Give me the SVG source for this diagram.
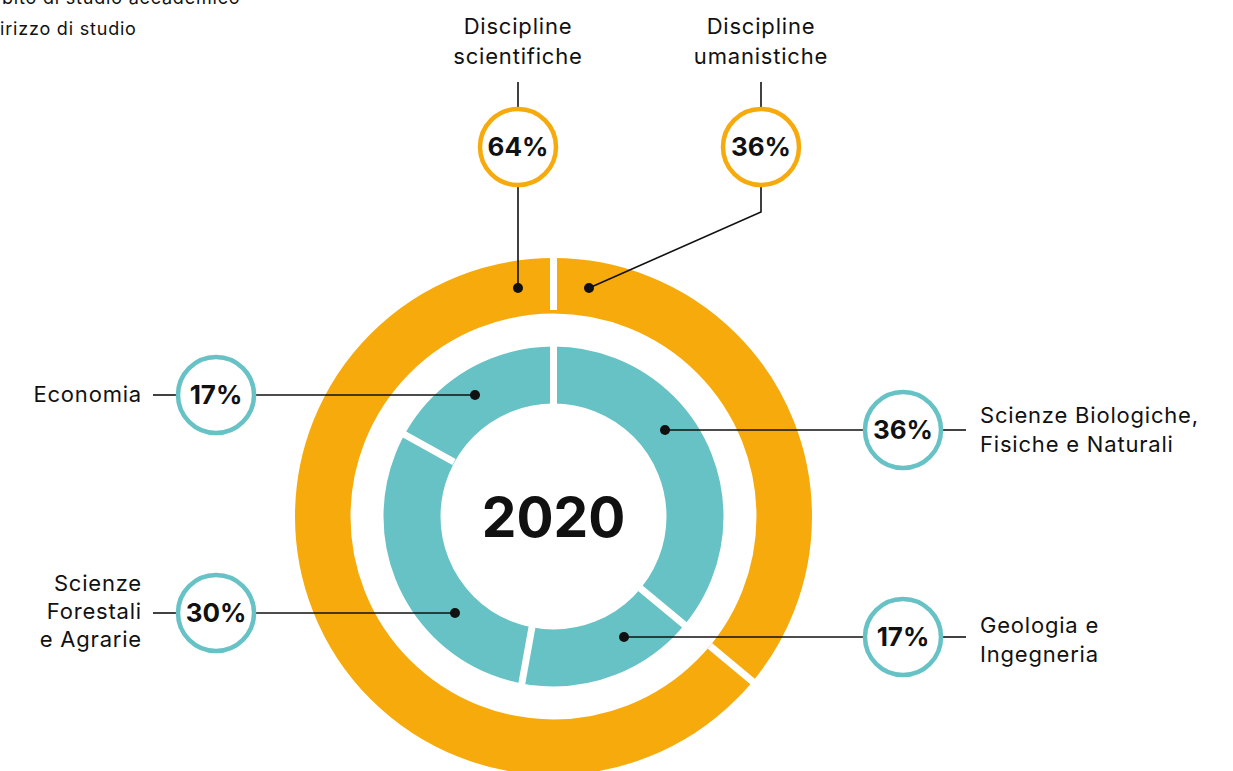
<svg xmlns="http://www.w3.org/2000/svg" width="1233" height="771" viewBox="0 0 1233 771">
<style>
.lbl{font-family:Inter,"Noto Sans","Liberation Sans",sans-serif;font-size:22px;letter-spacing:0.8px;fill:#111}
.pct{font-family:Inter,"Noto Sans","Liberation Sans",sans-serif;font-size:26px;font-weight:700;fill:#111;text-anchor:middle}
.hdr{font-family:Inter,"Noto Sans","Liberation Sans",sans-serif;font-size:18px;letter-spacing:0.8px;fill:#111}
.co{stroke:#111;stroke-width:1.6;fill:none}
.dot{fill:#111}
.oc{fill:#fff;stroke:#F7AA0B;stroke-width:4.5}
.tc{fill:#fff;stroke:#67C2C6;stroke-width:4.5}
.sep{stroke:#fff;stroke-width:7}
</style>
<rect width="1233" height="771" fill="#fff"/>
<g id="header">
<text class="hdr" x="2" y="4">bito di studio accademico</text>
<text class="hdr" x="0" y="35">irizzo di studio</text>
</g>
<g id="rings">
<circle cx="553.5" cy="516.5" r="230.75" fill="none" stroke="#F7AA0B" stroke-width="55.5"/>
<circle cx="553.5" cy="516.5" r="141.5" fill="none" stroke="#67C2C6" stroke-width="57"/>
<line class="sep" x1="553.5" y1="310" x2="553.5" y2="255"/>
<line class="sep" x1="710" y1="646" x2="755" y2="683.5"/>
<line class="sep" x1="553.5" y1="405" x2="553.5" y2="343"/>
<line class="sep" x1="640" y1="588" x2="687" y2="627"/>
<line class="sep" x1="532" y1="627" x2="521" y2="688"/>
<line class="sep" x1="454" y1="462" x2="400" y2="432"/>
<text x="553.5" y="537" text-anchor="middle" style="font-family:Inter,'Noto Sans','Liberation Sans',sans-serif;font-size:55px;font-weight:700;fill:#111">2020</text>
</g>
<g id="connectors">
<line class="co" x1="518" y1="82" x2="518" y2="110"/>
<line class="co" x1="518" y1="185" x2="518" y2="288"/>
<circle class="dot" cx="518" cy="288" r="5"/>
<line class="co" x1="761" y1="82" x2="761" y2="110"/>
<polyline class="co" points="761,185 761,212 589,288"/>
<circle class="dot" cx="589" cy="288" r="5"/>
<line class="co" x1="153" y1="395" x2="179" y2="395"/>
<line class="co" x1="253" y1="395" x2="475" y2="395"/>
<circle class="dot" cx="475" cy="395" r="5"/>
<line class="co" x1="153" y1="613" x2="179" y2="613"/>
<line class="co" x1="253" y1="613" x2="455" y2="613"/>
<circle class="dot" cx="455" cy="613" r="5"/>
<line class="co" x1="665" y1="430" x2="866" y2="430"/>
<line class="co" x1="940" y1="430" x2="966" y2="430"/>
<circle class="dot" cx="665" cy="430" r="5"/>
<line class="co" x1="624" y1="637" x2="866" y2="637"/>
<line class="co" x1="940" y1="637" x2="966" y2="637"/>
<circle class="dot" cx="624" cy="637" r="5"/>
</g>
<g id="node-scientifiche">
<circle class="oc" cx="518" cy="147" r="38"/>
<text class="pct" x="518" y="156">64%</text>
<text class="lbl" x="518" y="34" text-anchor="middle">Discipline</text>
<text class="lbl" x="518" y="64" text-anchor="middle">scientifiche</text>
</g>
<g id="node-umanistiche">
<circle class="oc" cx="761" cy="147" r="38"/>
<text class="pct" x="761" y="156">36%</text>
<text class="lbl" x="761" y="34" text-anchor="middle">Discipline</text>
<text class="lbl" x="761" y="64" text-anchor="middle">umanistiche</text>
</g>
<g id="node-economia">
<circle class="tc" cx="216" cy="395" r="38"/>
<text class="pct" x="216" y="404">17%</text>
<text class="lbl" x="142" y="402" text-anchor="end">Economia</text>
</g>
<g id="node-forestali">
<circle class="tc" cx="216" cy="613" r="38"/>
<text class="pct" x="216" y="622">30%</text>
<text class="lbl" x="142" y="591" text-anchor="end">Scienze</text>
<text class="lbl" x="142" y="619" text-anchor="end">Forestali</text>
<text class="lbl" x="142" y="647" text-anchor="end">e Agrarie</text>
</g>
<g id="node-biologiche">
<circle class="tc" cx="903" cy="430" r="38"/>
<text class="pct" x="903" y="439">36%</text>
<text class="lbl" x="980" y="423">Scienze Biologiche,</text>
<text class="lbl" x="980" y="452">Fisiche e Naturali</text>
</g>
<g id="node-geologia">
<circle class="tc" cx="903" cy="637" r="38"/>
<text class="pct" x="903" y="646">17%</text>
<text class="lbl" x="980" y="633">Geologia e</text>
<text class="lbl" x="980" y="662">Ingegneria</text>
</g>
</svg>
